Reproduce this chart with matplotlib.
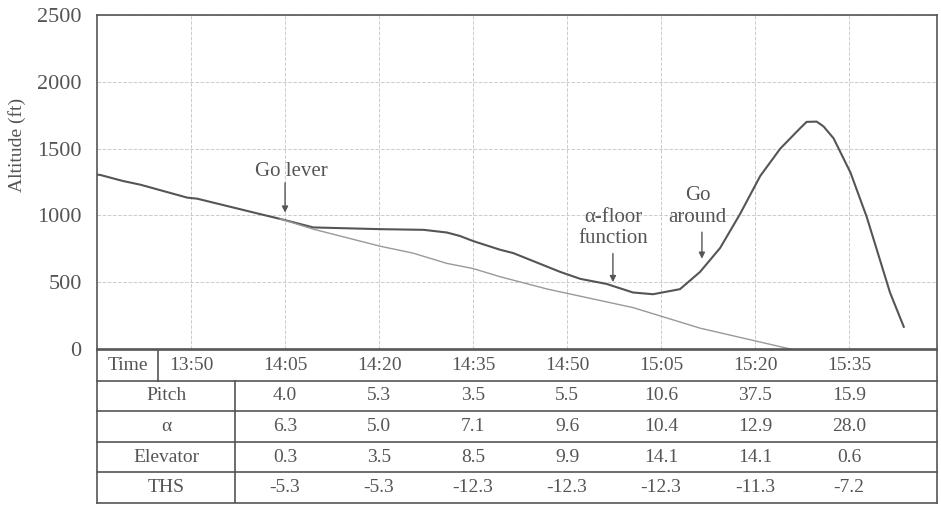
import numpy as np
import matplotlib
matplotlib.use("Agg")
import matplotlib.pyplot as plt

plt.rcParams['font.family'] = ['Liberation Serif', 'DejaVu Serif']

# time in seconds ("13:50" -> 830 s), altitude in ft
t_actual = [815, 815.5, 819.1, 821.9, 829.4, 831.0, 841.0, 844.2, 849.5, 860.2, 867.1,
            870.8, 872.9, 875.0, 879.3, 881.4, 888.9, 892.1, 896.3, 900.5, 903.7, 908.0,
            911.2, 914.4, 917.6, 920.8, 924.0, 927.2, 928.2, 929.8, 930.9, 932.5, 935.2,
            937.8, 941.5, 943.7]
alt_actual = [1305, 1303, 1258, 1230, 1133, 1125, 1010, 974, 910, 897, 892,
              872, 846, 808, 743, 718, 577, 525, 487, 423, 410, 448,
              577, 756, 1012, 1295, 1500, 1654, 1700, 1702, 1666, 1577, 1320,
              987, 423, 166]

t_path = [844.2, 849.5, 860.2, 865.4, 870.8, 875.0, 879.3, 886.8, 900.5, 911.2, 925.6]
alt_path = [974, 897, 769, 718, 641, 602, 541, 449, 310, 156, 0]

time_labels = ["13:50", "14:05", "14:20", "14:35", "14:50", "15:05", "15:20", "15:35"]
time_secs = [830, 845, 860, 875, 890, 905, 920, 935]

row_names = ["Pitch", "α", "Elevator", "THS"]
pitch = ["4.0", "5.3", "3.5", "5.5", "10.6", "37.5", "15.9"]
alpha = ["6.3", "5.0", "7.1", "9.6", "10.4", "12.9", "28.0"]
elevator = ["0.3", "3.5", "8.5", "9.9", "14.1", "14.1", "0.6"]
ths = ["-5.3", "-5.3", "-12.3", "-12.3", "-12.3", "-11.3", "-7.2"]

txt = "#555555"
edge = "#555555"
fs = 14
x0, x1 = 815, 949

fig = plt.figure(figsize=(9.41, 5.05), dpi=100)
ax = fig.add_axes([97 / 941, 1 - 349 / 505, 840 / 941, 334 / 505])
ax.plot(t_actual, alt_actual, color="#555555", lw=1.5)
ax.plot(t_path, alt_path, color="#999999", lw=1.0)
ax.set_xlim(x0, x1)
ax.set_ylim(0, 2500)
ax.set_xticks(time_secs)
ax.set_yticks([0, 500, 1000, 1500, 2000, 2500])
ax.set_xticklabels([])
ax.tick_params(axis="y", length=0, labelsize=16, labelcolor=txt, pad=11)
ax.tick_params(axis="x", length=0)
ax.grid(True, color="#cccccc", ls="--", lw=0.7)
for s in ax.spines.values():
    s.set_color(edge)
    s.set_linewidth(1.2)
ax.set_ylabel("Altitude (ft)", fontsize=fs, color=txt)
ax.yaxis.set_label_coords(-0.085, 0.61)

arrow = dict(arrowstyle="-|>", color="#555555", lw=1.0, mutation_scale=9)
ax.annotate("", xy=(845, 1000), xytext=(845, 1265), arrowprops=arrow)
ax.text(846, 1330, "Go lever", ha="center", va="center", fontsize=15, color=txt)
ax.annotate("", xy=(897.3, 480), xytext=(897.3, 735), arrowprops=arrow)
ax.text(897.3, 905, "α-floor\nfunction", ha="center", va="center", fontsize=15,
        color=txt, linespacing=1.2)
ax.annotate("", xy=(911.5, 655), xytext=(911.5, 895), arrowprops=arrow)
ax.text(910.8, 1065, "Go\naround", ha="center", va="center", fontsize=15,
        color=txt, linespacing=1.2)

# table under the chart
tb = fig.add_axes([97 / 941, 1 - 503 / 505, 840 / 941, 153 / 505])
tb.set_xlim(x0, x1)
tb.set_ylim(5, 0)
tb.axis("off")
lc = dict(color=edge, lw=1.2)
for r in range(6):
    tb.plot([x0, x1], [r, r], **lc, clip_on=False)
tb.plot([x0, x0], [0, 5], **lc, clip_on=False)
tb.plot([x1, x1], [0, 5], **lc, clip_on=False)
sep_time = 815 + (158 - 97) * 15 / 94
sep_lab = 815 + (235 - 97) * 15 / 94
tb.plot([sep_time, sep_time], [0, 1], **lc)
tb.plot([sep_lab, sep_lab], [1, 5], **lc)

tb.text((x0 + sep_time) / 2, 0.5, "Time", ha="center", va="center", fontsize=fs, color=txt)
for s, lab in zip(time_secs, time_labels):
    tb.text(s, 0.5, lab, ha="center", va="center", fontsize=fs, color=txt)
rows = [pitch, alpha, elevator, ths]
for i, (name, vals) in enumerate(zip(row_names, rows)):
    y = i + 1.5
    tb.text((x0 + sep_lab) / 2, y, name, ha="center", va="center", fontsize=fs, color=txt)
    for s, v in zip(time_secs[1:], vals):
        tb.text(s, y, v, ha="center", va="center", fontsize=fs, color=txt)

fig.savefig("out.png", dpi=100)
